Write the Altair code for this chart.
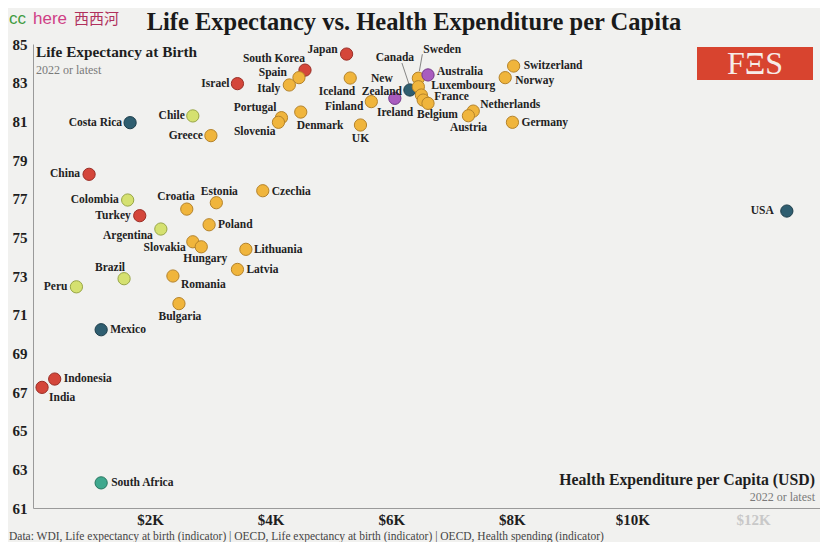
import altair as alt
import pandas as pd

# ---------------- data ----------------
countries = ["Japan", "South Korea", "Spain", "Italy", "Israel", "Portugal", "Slovenia",
             "Denmark", "Iceland", "Finland", "UK", "New Zealand", "Canada", "Sweden",
             "Australia", "Luxembourg", "France", "Ireland", "Belgium", "Netherlands",
             "Austria", "Switzerland", "Norway", "Germany", "Chile", "Greece", "Costa Rica",
             "China", "Colombia", "Turkey", "Argentina", "Croatia", "Estonia", "Czechia",
             "Poland", "Slovakia", "Hungary", "Lithuania", "Latvia", "Romania", "Bulgaria",
             "Brazil", "Peru", "Mexico", "Indonesia", "India", "South Africa", "USA"]
spend = [5260, 4570, 4470, 4310, 3450, 4180, 4130,
         4500, 5320, 5670, 5490, 6060, 6310, 6450,
         6610, 6450, 6500, 6530, 6610, 7360,
         7280, 8030, 7890, 8010, 2710, 3010, 1670,
         990, 1630, 1830, 2180, 2610, 3100, 3870,
         2980, 2710, 2850, 3590, 3450, 2380, 2480,
         1570, 780, 1190, 420, 210, 1190, 12560]
life = [84.48, 83.65, 83.26, 82.88, 82.95, 81.19, 80.95,
        81.48, 83.24, 82.02, 80.81, 82.19, 82.62, 83.23,
        83.40, 82.79, 82.36, 82.10, 81.93, 81.53,
        81.29, 83.86, 83.26, 80.95, 81.28, 80.26, 80.93,
        78.26, 76.93, 76.12, 75.43, 76.46, 76.79, 77.41,
        75.65, 74.77, 74.51, 74.38, 73.34, 73.00, 71.57,
        72.86, 72.44, 70.22, 67.67, 67.24, 62.30, 76.36]
region = ["Asia", "Asia", "Europe", "Europe", "Asia", "Europe", "Europe",
          "Europe", "Europe", "Europe", "Europe", "Oceania", "North America", "Europe",
          "Oceania", "Europe", "Europe", "Europe", "Europe", "Europe",
          "Europe", "Europe", "Europe", "Europe", "South America", "Europe", "North America",
          "Asia", "South America", "Asia", "South America", "Europe", "Europe", "Europe",
          "Europe", "Europe", "Europe", "Europe", "Europe", "Europe", "Europe",
          "South America", "South America", "North America", "Asia", "Asia", "Africa", "North America"]

regions = ["Asia", "Europe", "South America", "North America", "Oceania", "Africa"]
fill_colors = ["#d4463a", "#f0b53c", "#d5e170", "#2f5e70", "#a95cbf", "#3fa88e"]
stroke_colors = ["#9a2e26", "#b5832a", "#98a646", "#1c3d4a", "#74388a", "#27765f"]

x_ticks = [2000, 4000, 6000, 8000, 10000, 12000]
y_ticks = [61, 63, 65, 67, 69, 71, 73, 75, 77, 79, 81, 83, 85]

# ---------------- label placement (style: pixel offsets from the dot) ----------------
label_style = {
    "Japan": (-9, -4, "right"), "South Korea": (0, -11, "right"), "Spain": (-12, -5, "right"),
    "Italy": (-9, 4, "right"), "Israel": (-8, 0, "right"), "Portugal": (-5, -10, "right"),
    "Slovenia": (-3, 10, "right"), "Denmark": (-4, 14, "left"), "Iceland": (5, 14, "right"),
    "Finland": (-8, 5, "right"), "UK": (0, 14, "center"), "New Zealand": (-13, -19, "center"),
    "Canada": (-15, -32, "center"), "Sweden": (5, -28, "left"), "Australia": (9, -3, "left"),
    "Luxembourg": (13, -1, "left"), "France": (13, 2, "left"), "Ireland": (-10, 13, "right"),
    "Belgium": (-11, 12, "left"), "Netherlands": (7, -6, "left"), "Austria": (0, 12, "center"),
    "Switzerland": (10, 0, "left"), "Norway": (10, 3, "left"), "Germany": (9, 1, "left"),
    "Chile": (-8, 0, "right"), "Greece": (-8, 0, "right"), "Costa Rica": (-8, 0, "right"),
    "China": (-9, 0, "right"), "Colombia": (-9, 0, "right"), "Turkey": (-9, 0, "right"),
    "Argentina": (-8, 7, "right"), "Croatia": (8, -12, "right"), "Estonia": (3, -11, "center"),
    "Czechia": (9, 1, "left"), "Poland": (9, 0, "left"), "Slovakia": (-7, 6, "right"),
    "Hungary": (4, 12, "center"), "Lithuania": (8, 1, "left"), "Latvia": (9, 1, "left"),
    "Romania": (8, 9, "left"), "Bulgaria": (1, 13, "center"), "Brazil": (1, -11, "right"),
    "Peru": (-9, 0, "right"), "Mexico": (9, 0, "left"), "Indonesia": (9, 0, "left"),
    "India": (7, 11, "left"), "South Africa": (10, 0, "left"), "USA": (-13, 0, "right"),
}
label_text = {"New Zealand": "New\nZealand"}
leaders = {"Canada": (-8, -27, -1, -6), "Sweden": (4, -24, 1, -7)}

# ---------------- geometry ----------------
W, H = 787, 464
X_DOM = [60, 13110]
Y_DOM = [61, 85]
PX_X = W / (X_DOM[1] - X_DOM[0])
PX_Y = H / (Y_DOM[1] - Y_DOM[0])
FONT = "Liberation Serif"

df = pd.DataFrame({"country": countries, "spend": spend, "life": life, "region": region})
df["dx"] = df["country"].map(lambda c: label_style[c][0])
df["dy"] = df["country"].map(lambda c: label_style[c][1])
df["align"] = df["country"].map(lambda c: label_style[c][2])
df["label"] = df["country"].map(lambda c: label_text.get(c, c))
df["lx"] = df["spend"] + df["dx"] / PX_X
df["ly"] = df["life"] - df["dy"] / PX_Y

lead_rows = []
for c, (x1, y1, x2, y2) in leaders.items():
    r = df[df["country"] == c].iloc[0]
    lead_rows.append({"country": c,
                      "x1": r["spend"] + x1 / PX_X, "y1": r["life"] - y1 / PX_Y,
                      "x2": r["spend"] + x2 / PX_X, "y2": r["life"] - y2 / PX_Y})
lead_df = pd.DataFrame(lead_rows)

x_scale = alt.Scale(domain=X_DOM, nice=False, zero=False)
y_scale = alt.Scale(domain=Y_DOM, nice=False, zero=False)
x_axis = alt.Axis(values=x_ticks, labelExpr="'$' + datum.value / 1000 + 'K'", title=None,
                  ticks=False, grid=False, domainColor="#9a9a9a", labelFont=FONT,
                  labelFontSize=15, labelFontWeight="bold", labelPadding=4,
                  labelColor={"expr": "datum.value == 12000 ? '#c8c8c8' : '#1e1e1e'"})
y_axis = alt.Axis(values=y_ticks, title=None, ticks=False, grid=False, domainColor="#9a9a9a",
                  labelFont=FONT, labelFontSize=15, labelFontWeight="bold", labelPadding=6,
                  labelColor="#1e1e1e")

base = alt.Chart(df)

leader_layer = alt.Chart(lead_df).mark_rule(color="#6a6a6a", strokeWidth=0.8).encode(
    x=alt.X("x1:Q", scale=x_scale, axis=x_axis),
    y=alt.Y("y1:Q", scale=y_scale, axis=y_axis),
    x2="x2:Q", y2="y2:Q")

dots = base.mark_circle(size=150, opacity=1, strokeWidth=1).encode(
    x=alt.X("spend:Q", scale=x_scale, axis=x_axis),
    y=alt.Y("life:Q", scale=y_scale, axis=y_axis),
    color=alt.Color("region:N", scale=alt.Scale(domain=regions, range=fill_colors), legend=None),
    stroke=alt.Stroke("region:N", scale=alt.Scale(domain=regions, range=stroke_colors), legend=None),
    tooltip=["country", "spend", "life"])


def label_layer(al):
    return base.transform_filter(alt.datum.align == al).mark_text(
        align=al, baseline="middle", font=FONT, fontSize=11.5, fontWeight="bold",
        color="#222222", lineBreak="\n", lineHeight=13).encode(
        x=alt.X("lx:Q", scale=x_scale, axis=x_axis),
        y=alt.Y("ly:Q", scale=y_scale, axis=y_axis),
        text="label:N")


one = pd.DataFrame({"k": [0]})


def note(text, x, y, **kw):
    return alt.Chart(one).mark_text(text=text, **kw).encode(x=alt.value(x), y=alt.value(y))


title = note("Life Expectancy vs. Health Expenditure per Capita", 381, -14, align="center",
             baseline="alphabetic", font=FONT, fontSize=24.5, fontWeight="bold", color="#1a1a1a")
wm1 = note("cc", -24, -20, align="left", baseline="alphabetic", font="Liberation Sans",
           fontSize=17, color="#3f9b3f")
wm2 = note("here", 0, -20, align="left", baseline="alphabetic", font="Liberation Sans",
           fontSize=17, color="#cf3f86")
wm3 = note("西西河", 41, -20, align="left", baseline="alphabetic", font="Noto Sans CJK SC",
           fontSize=15, color="#b0305c")
ytitle = note("Life Expectancy at Birth", 3, 8, align="left", baseline="middle", font=FONT,
              fontSize=15.3, fontWeight="bold", color="#1e1e1e")
ysub = note("2022 or latest", 3, 26, align="left", baseline="middle", font=FONT,
            fontSize=12, color="#7a7a7a")
xtitle = note("Health Expenditure per Capita (USD)", 782, 436, align="right", baseline="middle",
              font=FONT, fontSize=15.8, fontWeight="bold", color="#1e1e1e")
xsub = note("2022 or latest", 782, 453, align="right", baseline="middle", font=FONT,
            fontSize=12, color="#7a7a7a")
logo_bg = alt.Chart(one).mark_rect(color="#d8442f").encode(
    x=alt.value(664), x2=alt.value(780), y=alt.value(3), y2=alt.value(36))
logo_tx = note("FΞS", 722, 20, align="center", baseline="middle", font=FONT, fontSize=32,
               color="#f6ece8")
source = note("Data: WDI, Life expectancy at birth (indicator) | OECD, Life expectancy at birth "
              "(indicator) | OECD, Health spending (indicator)", -24, 29 + H, align="left",
              baseline="middle", font=FONT, fontSize=11.5, color="#444444")

chart = alt.layer(
    leader_layer, dots, label_layer("left"), label_layer("right"), label_layer("center"),
    title, wm1, wm2, wm3, ytitle, ysub, xtitle, xsub, logo_bg, logo_tx, source
).properties(
    width=W, height=H,
    padding={"left": 25, "top": 36, "right": 0, "bottom": 34},
    autosize=alt.AutoSizeParams(type="none"),
    background="#f1f1ef",
).configure_view(strokeWidth=0)

chart.save("out.html", embed_options={"renderer": "svg", "actions": False})
